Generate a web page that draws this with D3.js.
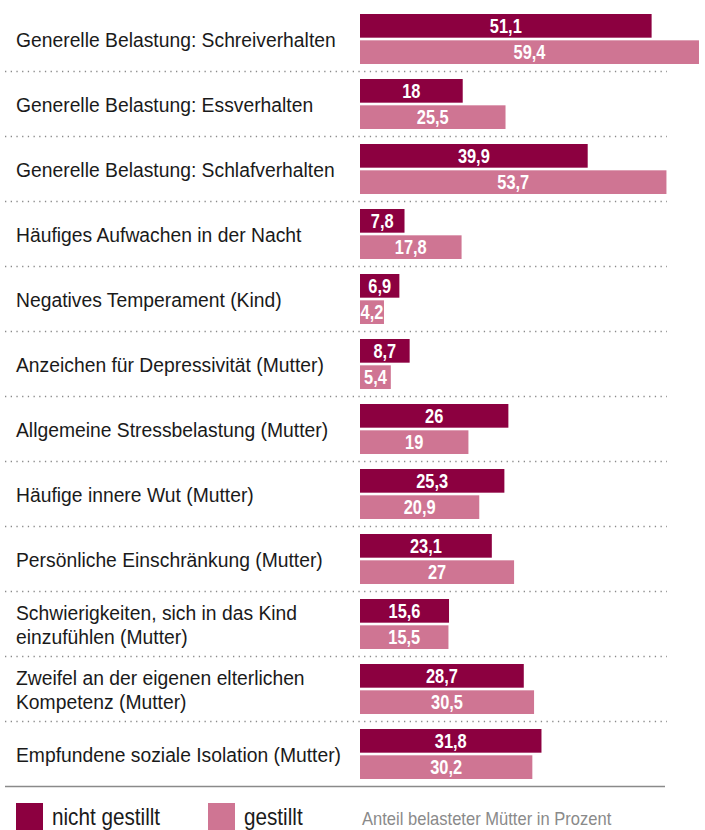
<!DOCTYPE html>
<html>
<head>
<meta charset="utf-8">
<script src="https://cdn.jsdelivr.net/npm/d3@7"></script>
<style>
  body { margin: 0; background: #fff; }
  svg { display: block; }
</style>
</head>
<body>
<div id="chart"></div>
<script>
// data
const categories = [
  "Generelle Belastung: Schreiverhalten",
  "Generelle Belastung: Essverhalten",
  "Generelle Belastung: Schlafverhalten",
  "Häufiges Aufwachen in der Nacht",
  "Negatives Temperament (Kind)",
  "Anzeichen für Depressivität (Mutter)",
  "Allgemeine Stressbelastung (Mutter)",
  "Häufige innere Wut (Mutter)",
  "Persönliche Einschränkung (Mutter)",
  "Schwierigkeiten, sich in das Kind\neinzufühlen (Mutter)",
  "Zweifel an der eigenen elterlichen\nKompetenz (Mutter)",
  "Empfundene soziale Isolation (Mutter)"
];
const nichtGestillt = [51.1, 18, 39.9, 7.8, 6.9, 8.7, 26, 25.3, 23.1, 15.6, 28.7, 31.8];
const gestillt = [59.4, 25.5, 53.7, 17.8, 4.2, 5.4, 19, 20.9, 27, 15.5, 30.5, 30.2];
const seriesNames = ["nicht gestillt", "gestillt"];
const seriesColors = ["#8c0040", "#cf7593"];
const note = "Anteil belasteter Mütter in Prozent";

const width = 705, height = 830;
// no condensed font installed, so squeeze Liberation Sans horizontally
const font = "'Liberation Sans', Arial, sans-serif";

const svg = d3.select("#chart").append("svg")
  .attr("width", width)
  .attr("height", height)
  .style("font-family", font);

const rows = categories.map((c, i) => ({
  label: c,
  values: [nichtGestillt[i], gestillt[i]]
}));

const y = d3.scaleBand().domain(d3.range(categories.length)).range([6, 786]);
const ySub = d3.scaleBand().domain([0, 1]).range([8, 58]).paddingInner(0.1);
const x = d3.scaleLinear().domain([0, 60]).range([360, 702.4]);

// separators
svg.append("g").selectAll("line")
  .data(d3.range(1, categories.length))
  .join("line")
  .attr("x1", 5).attr("x2", 667)
  .attr("y1", d => y(d) + 0.5).attr("y2", d => y(d) + 0.5)
  .attr("stroke", "#8a8a8a")
  .attr("stroke-width", 1.3)
  .attr("stroke-dasharray", "1.3 4.4");

svg.append("line")
  .attr("x1", 5).attr("x2", 665)
  .attr("y1", y.range()[1] + 0.5).attr("y2", y.range()[1] + 0.5)
  .attr("stroke", "#8a8a8a")
  .attr("stroke-width", 1.3);

const row = svg.append("g").selectAll("g")
  .data(rows)
  .join("g")
  .attr("transform", (d, i) => `translate(0,${y(i)})`);

// category labels
row.append("text")
  .attr("transform", "translate(16,0) scale(0.92,1)")
  .attr("font-size", 21)
  .attr("fill", "#1a1a1a")
  .each(function (d) {
    const lines = d.label.split("\n");
    const mid = y.bandwidth() / 2 + 9;
    const start = mid - (lines.length - 1) * 12;
    d3.select(this).selectAll("tspan")
      .data(lines)
      .join("tspan")
      .attr("x", 0)
      .attr("y", (l, j) => start + j * 24)
      .text(l => l);
  });

// bars
const bar = row.selectAll("g.bar")
  .data(d => d.values.map((v, k) => ({ v, k })))
  .join("g")
  .attr("class", "bar");

bar.append("rect")
  .attr("x", x(0))
  .attr("y", d => ySub(d.k))
  .attr("width", d => x(d.v) - x(0))
  .attr("height", ySub.bandwidth())
  .attr("fill", d => seriesColors[d.k]);

bar.append("text")
  .attr("transform", d => `translate(${(x(0) + x(d.v)) / 2},${ySub(d.k) + ySub.bandwidth() / 2 + 7}) scale(0.82,1)`)
  .attr("text-anchor", "middle")
  .attr("font-size", 20)
  .attr("font-weight", "bold")
  .attr("fill", "#fff")
  .text(d => String(d.v).replace(".", ","));

// legend
const legendX = [16, 208];
const legend = svg.append("g").selectAll("g")
  .data(seriesNames)
  .join("g")
  .attr("transform", (d, i) => `translate(${legendX[i]},803)`);

legend.append("rect")
  .attr("width", 27).attr("height", 27)
  .attr("fill", (d, i) => seriesColors[i]);

legend.append("text")
  .attr("transform", "translate(36,22) scale(0.9,1)")
  .attr("font-size", 23)
  .attr("fill", "#1a1a1a")
  .text(d => d);

svg.append("text")
  .attr("transform", "translate(362,825) scale(0.92,1)")
  .attr("font-size", 18)
  .attr("fill", "#8a8a8a")
  .text(note);
</script>
</body>
</html>
